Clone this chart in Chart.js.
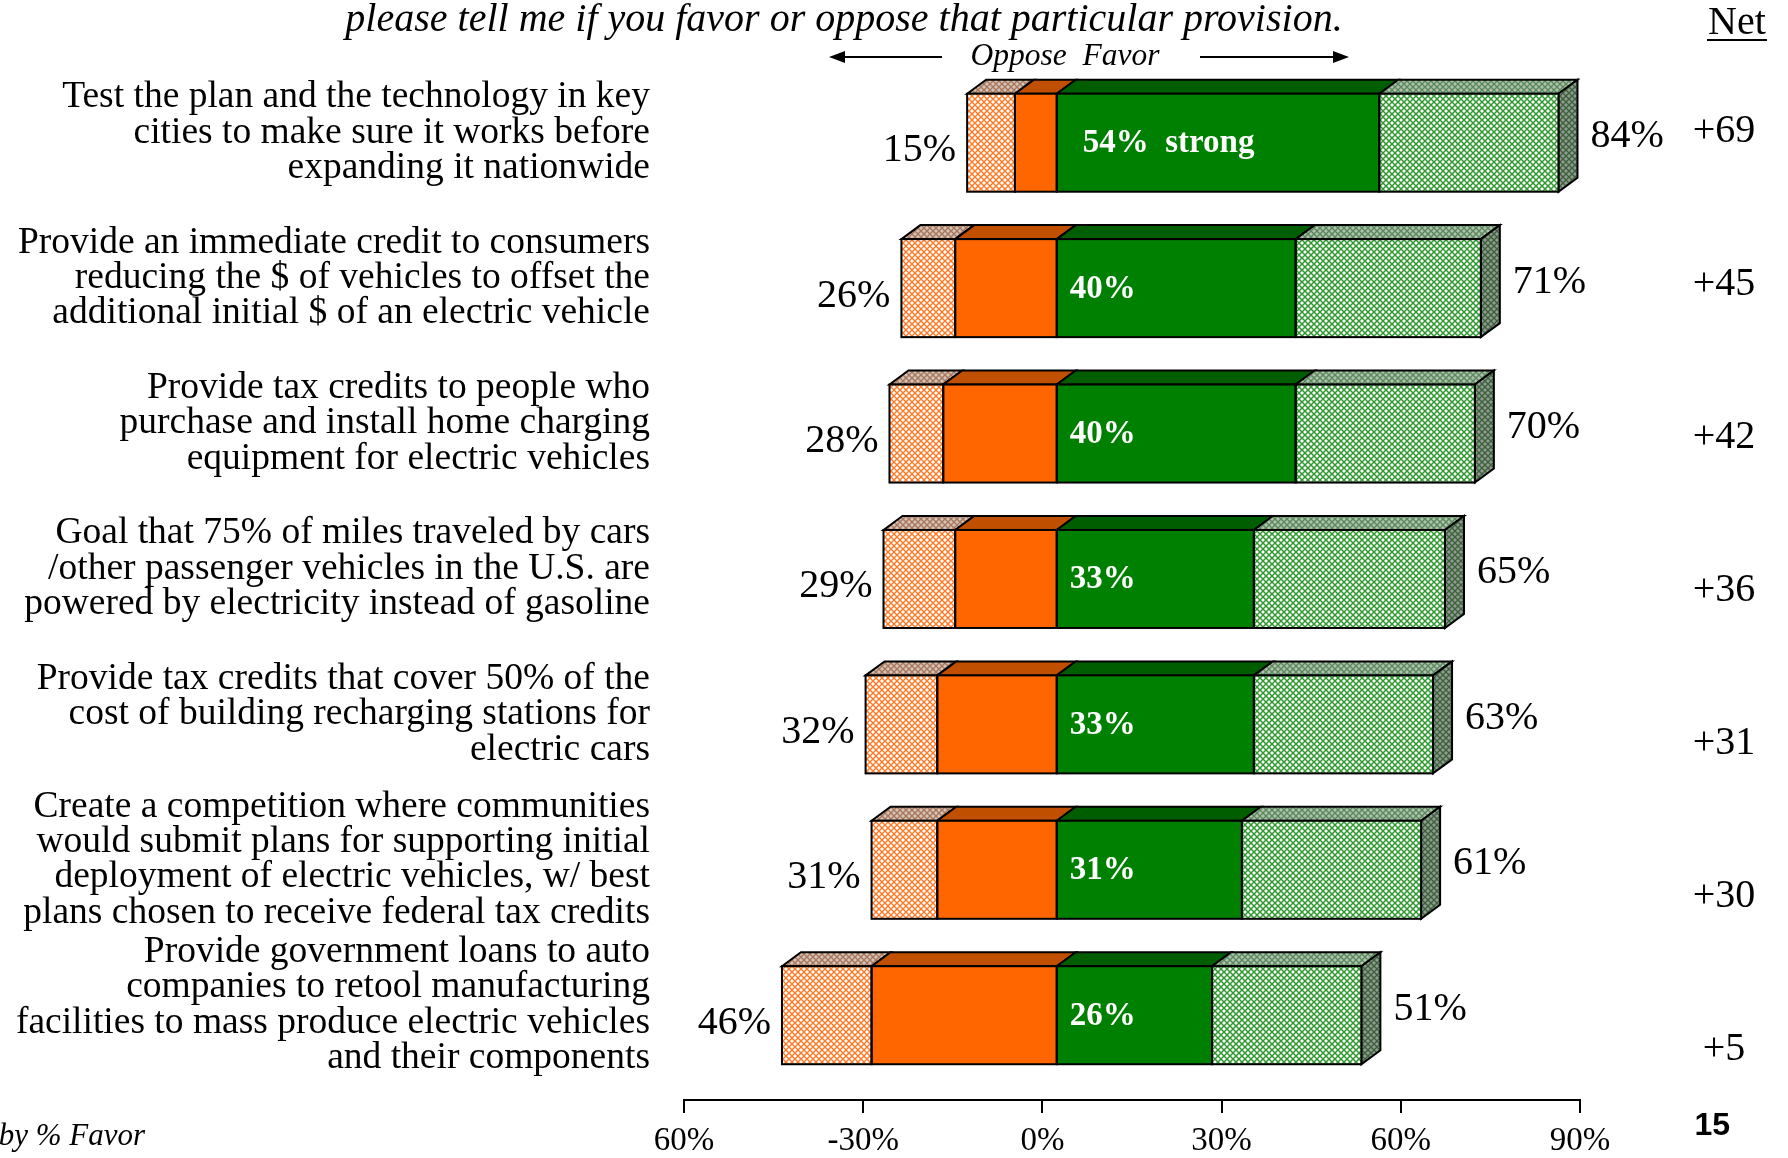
<!DOCTYPE html>
<html>
<head>
<meta charset="utf-8">
<script src="https://cdn.jsdelivr.net/npm/chart.js@4.4.1/dist/chart.umd.min.js"></script>
<style>
  html, body { margin: 0; padding: 0; background: #fff; }
  #wrap { width: 1788px; height: 1158px; position: relative; }
</style>
</head>
<body>
<div id="wrap"><canvas id="chart"></canvas></div>
<script>
// data
const categories = [
  ["Test the plan and the technology in key", "cities to make sure it works before", "expanding it nationwide"],
  ["Provide an immediate credit to consumers", "reducing the $ of vehicles to offset the", "additional initial $ of an electric vehicle"],
  ["Provide tax credits to people who", "purchase and install home charging", "equipment for electric vehicles"],
  ["Goal that 75% of miles traveled by cars", "/other passenger vehicles in the U.S. are", "powered by electricity instead of gasoline"],
  ["Provide tax credits that cover 50% of the", "cost of building recharging stations for", "electric cars"],
  ["Create a competition where communities", "would submit plans for supporting initial", "deployment of electric vehicles, w/ best", "plans chosen to receive federal tax credits"],
  ["Provide government loans to auto", "companies to retool manufacturing", "facilities to mass produce electric vehicles", "and their components"]
];
const strongOppose = [7, 17, 19, 17, 20, 20, 31];
const weakOppose = [8, 9, 9, 12, 12, 11, 15];
const strongFavor = [54, 40, 40, 33, 33, 31, 26];
const weakFavor = [30, 31, 30, 32, 30, 30, 25];
const totalOppose = [15, 26, 28, 29, 32, 31, 46];
const totalFavor = [84, 71, 70, 65, 63, 61, 51];
const netLabels = ["+69", "+45", "+42", "+36", "+31", "+30", "+5"];
const xTicks = [-60, -30, 0, 30, 60, 90];
const xTickLabels = ["60%", "-30%", "0%", "30%", "60%", "90%"];

const SERIF = '"Liberation Serif", "Times New Roman", serif';
const DX = 19, DY = 14;      // depth of the 3d faces
const FRONT_SHIFT = 2.4;     // front faces sit right of the printed axis

function hatch(bg, fg, lw) {
  const s = 6;
  const c = document.createElement("canvas");
  c.width = s; c.height = s;
  const g = c.getContext("2d");
  g.fillStyle = bg;
  g.fillRect(0, 0, s, s);
  g.strokeStyle = fg;
  g.lineWidth = lw;
  g.beginPath();
  g.moveTo(-1, -1); g.lineTo(s + 1, s + 1);
  g.moveTo(s + 1, -1); g.lineTo(-1, s + 1);
  g.stroke();
  return g.createPattern(c, "repeat");
}

const lightOrange = hatch("#ffffff", "#ff7a26", 1.4);
const lightGreen = hatch("#ffffff", "#2f982f", 1.5);
const topFaces = ["#c04f00", hatch("#d6c4ba", "#a8785c", 1.4), "#005e00", hatch("#b2c2b2", "#5a8a5a", 1.4)];
const sideFace = hatch("#8e9e8e", "#3f5f3f", 1.4);

function box(el) {
  const p = el.getProps(["x", "y", "base", "height"], true);
  return {
    l: Math.min(p.x, p.base), r: Math.max(p.x, p.base),
    t: p.y - p.height / 2, b: p.y + p.height / 2, y: p.y
  };
}

function noPad(s) {
  s.paddingTop = 0; s.paddingBottom = 0;
  s.paddingLeft = 0; s.paddingRight = 0;
}

const bar3d = {
  id: "bar3d",
  beforeDatasetsDraw(chart) {
    const ctx = chart.ctx;
    ctx.save();
    ctx.lineWidth = 2;
    ctx.strokeStyle = "#000";
    [1, 0, 2, 3].forEach(d => {
      chart.getDatasetMeta(d).data.forEach(el => {
        const b = box(el);
        ctx.beginPath();
        ctx.moveTo(b.l, b.t);
        ctx.lineTo(b.l + DX, b.t - DY);
        ctx.lineTo(b.r + DX, b.t - DY);
        ctx.lineTo(b.r, b.t);
        ctx.closePath();
        ctx.fillStyle = topFaces[d];
        ctx.fill();
        ctx.stroke();
        if (d === 3) {
          ctx.beginPath();
          ctx.moveTo(b.r, b.t);
          ctx.lineTo(b.r + DX, b.t - DY);
          ctx.lineTo(b.r + DX, b.b - DY);
          ctx.lineTo(b.r, b.b);
          ctx.closePath();
          ctx.fillStyle = sideFace;
          ctx.fill();
          ctx.stroke();
        }
      });
    });
    ctx.restore();
  },
  afterDatasetsDraw(chart) {
    const ctx = chart.ctx;
    ctx.save();
    ctx.lineWidth = 2;
    ctx.strokeStyle = "#000";
    [0, 1, 2, 3].forEach(d => {
      chart.getDatasetMeta(d).data.forEach(el => {
        const b = box(el);
        ctx.strokeRect(b.l, b.t, b.r - b.l, b.b - b.t);
      });
    });

    const left = chart.getDatasetMeta(1).data;
    const mid = chart.getDatasetMeta(2).data;
    const right = chart.getDatasetMeta(3).data;
    ctx.textBaseline = "middle";
    for (let i = 0; i < categories.length; i++) {
      const bl = box(left[i]), bm = box(mid[i]), br = box(right[i]);
      ctx.fillStyle = "#000";
      ctx.font = "40px " + SERIF;
      ctx.textAlign = "right";
      ctx.fillText(totalOppose[i] + "%", bl.l - 11, bl.y + 8);
      ctx.textAlign = "left";
      ctx.fillText(totalFavor[i] + "%", br.r + DX + 13, br.y - 6);

      ctx.fillStyle = "#fff";
      ctx.font = "bold 33px " + SERIF;
      const txt = i === 0 ? strongFavor[i] + "%  strong" : strongFavor[i] + "%";
      ctx.fillText(txt, bm.l + (i === 0 ? 26 : 13), bm.y + 1);
    }
    ctx.restore();
  },
  afterDraw(chart) {
    const ctx = chart.ctx;
    ctx.save();
    ctx.fillStyle = "#000";
    ctx.strokeStyle = "#000";
    ctx.textBaseline = "alphabetic";

    ctx.font = "italic 40px " + SERIF;
    ctx.textAlign = "center";
    ctx.fillText("please tell me if you favor or oppose that particular provision.", 844, 31);

    ctx.font = "italic 31.5px " + SERIF;
    ctx.fillText("Oppose  Favor", 1065, 65);

    // arrows
    ctx.lineWidth = 2;
    ctx.beginPath();
    ctx.moveTo(942, 57); ctx.lineTo(842, 57);
    ctx.moveTo(1200, 57); ctx.lineTo(1336, 57);
    ctx.stroke();
    ctx.beginPath();
    ctx.moveTo(829, 57); ctx.lineTo(845, 51); ctx.lineTo(845, 63); ctx.closePath();
    ctx.moveTo(1349, 57); ctx.lineTo(1333, 51); ctx.lineTo(1333, 63); ctx.closePath();
    ctx.fill();

    // Net column
    ctx.font = "40px " + SERIF;
    ctx.fillText("Net", 1737, 34);
    ctx.fillRect(1707, 39, 60, 2);
    ctx.textBaseline = "middle";
    netLabels.forEach((t, i) => ctx.fillText(t, 1724, 131 + i * 153));

    ctx.textBaseline = "alphabetic";
    ctx.font = "italic 31px " + SERIF;
    ctx.textAlign = "right";
    ctx.fillText("by % Favor", 145, 1145);

    ctx.font = "bold 32px \"Liberation Sans\", Arial, sans-serif";
    ctx.fillText("15", 1730, 1135);
    ctx.restore();
  }
};

const ctx = document.getElementById("chart").getContext("2d");

new Chart(ctx, {
  type: "bar",
  data: {
    labels: categories.map((_, i) => i),
    datasets: [
      { label: "Strongly oppose", data: strongOppose.map(v => -v), backgroundColor: "#ff6600" },
      { label: "Somewhat oppose", data: weakOppose.map(v => -v), backgroundColor: lightOrange },
      { label: "Strongly favor", data: strongFavor, backgroundColor: "#008000" },
      { label: "Somewhat favor", data: weakFavor, backgroundColor: lightGreen }
    ]
  },
  options: {
    indexAxis: "y",
    responsive: true,
    maintainAspectRatio: false,
    animation: false,
    layout: { padding: { top: 70, right: 208, bottom: 0, left: 0 } },
    datasets: {
      bar: { borderWidth: 0, categoryPercentage: 0.674, barPercentage: 1 }
    },
    plugins: {
      legend: { display: false },
      tooltip: { enabled: false }
    },
    scales: {
      x: {
        type: "linear",
        stacked: true,
        display: false,
        min: -60 - FRONT_SHIFT,
        max: 90 - FRONT_SHIFT
      },
      xAxis: {
        type: "linear",
        position: "bottom",
        min: -60,
        max: 90,
        afterBuildTicks: s => { s.ticks = xTicks.map(v => ({ value: v })); },
        afterFit: s => { s.height = 58; noPad(s); },
        grid: { drawOnChartArea: false, drawTicks: true, tickLength: 13, color: "#000", lineWidth: 2 },
        border: { display: true, color: "#000", width: 2 },
        ticks: {
          autoSkip: false,
          maxRotation: 0,
          padding: 9,
          color: "#000",
          font: { family: SERIF, size: 33 },
          callback: (v, i) => xTickLabels[i]
        }
      },
      y: {
        type: "linear",
        stacked: true,
        reverse: true,
        offset: false,
        min: -0.5,
        max: 6.583,
        afterBuildTicks: s => { s.ticks = categories.map((_, i) => ({ value: i })); },
        afterFit: s => { s.width = 684; noPad(s); },
        grid: { display: false, offset: false },
        border: { display: false },
        ticks: {
          autoSkip: false,
          padding: 26,
          labelOffset: -10,
          color: "#000",
          font: { family: SERIF, size: 37.5, lineHeight: "35.4px" },
          callback: v => categories[v]
        }
      }
    }
  },
  plugins: [bar3d]
});
</script>
</body>
</html>
